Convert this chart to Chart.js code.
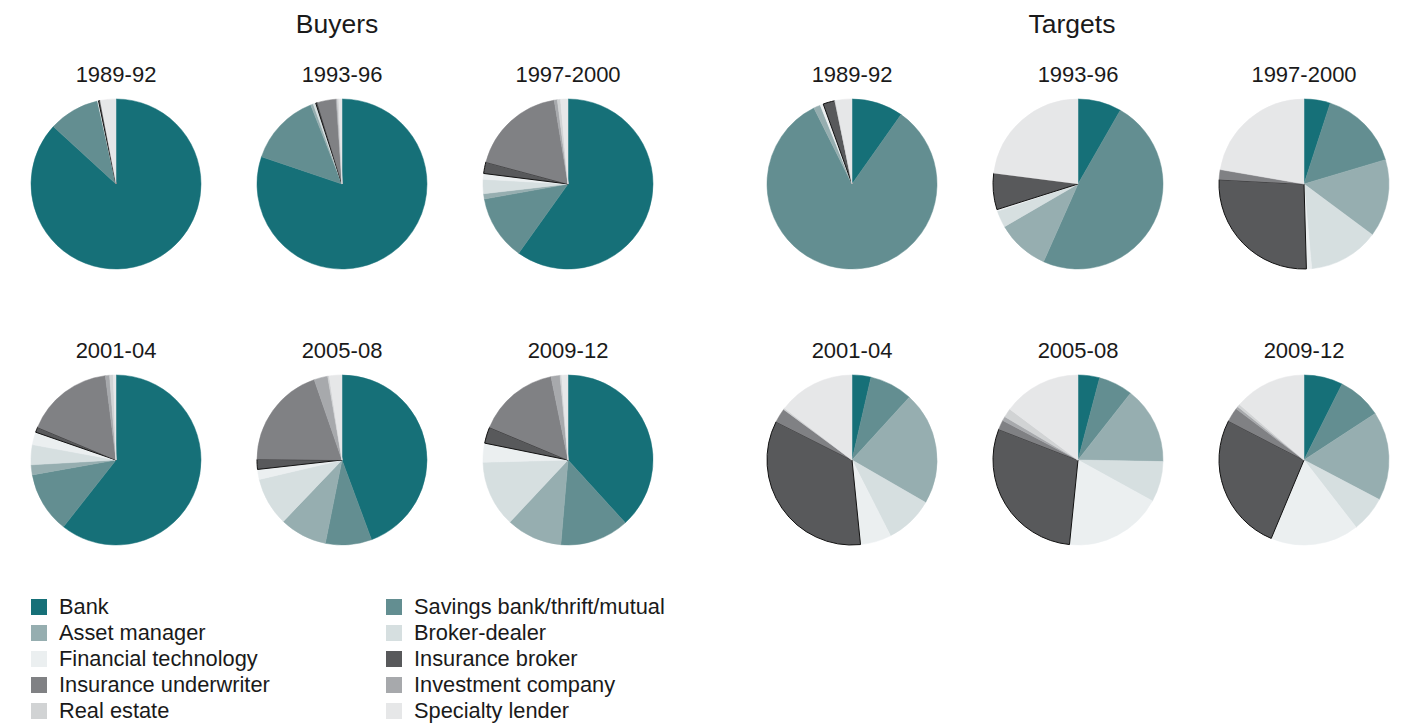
<!DOCTYPE html>
<html>
<head>
<meta charset="utf-8">
<script src="https://cdn.jsdelivr.net/npm/chart.js@4"></script>
<style>
  body { margin: 0; background: #fff; font-family: "Liberation Sans", Arial, sans-serif; color: #1a1a1a; }
  #wrap { position: relative; width: 1409px; height: 724px; }
  .group-title { position: absolute; top: 9px; width: 300px; text-align: center; font-size: 26.5px; }
  .period { position: absolute; width: 200px; text-align: center; font-size: 22px; }
  .pie { position: absolute; width: 190px; height: 190px; }
  .legend { position: absolute; top: 594px; left: 31px; display: grid; grid-template-columns: 355px 320px; row-gap: 0; font-size: 21.8px; }
  .legend div { height: 26px; line-height: 26px; display: flex; align-items: center; white-space: nowrap; }
  .legend span.sw { width: 16px; height: 16px; margin-right: 12px; display: inline-block; flex: none; }
</style>
</head>
<body>
<div id="wrap">
  <div class="group-title" style="left:187px">Buyers</div>
  <div class="group-title" style="left:922px">Targets</div>
  <div class="legend" id="legend"></div>
</div>
<script>
// Sector categories, in slice order (clockwise from 12 o'clock)
const sectors = ['Bank', 'Savings bank/thrift/mutual', 'Asset manager', 'Broker-dealer', 'Financial technology',
                 'Insurance broker', 'Insurance underwriter', 'Investment company', 'Real estate', 'Specialty lender'];
const colors = ['#167078', '#638e91', '#96aeb0', '#d6dfe0', '#ebeff0', '#58595b', '#808184', '#a7a9ac', '#d1d3d4', '#e6e7e8'];
const periods = ['1989-92', '1993-96', '1997-2000', '2001-04', '2005-08', '2009-12'];

// Share of deals (%) by sector, buyers
const buyers8992 = [86.8, 9.7, 0, 0, 0.2, 0.3, 0, 0, 0, 3.0];
const buyers9396 = [80.2, 13.8, 0.5, 0.5, 0, 0.3, 3.6, 0.2, 0.3, 0.6];
const buyers9700 = [59.8, 12.3, 1.0, 2.7, 1.1, 2.2, 18.2, 0.6, 0.6, 1.4];
const buyers0104 = [60.6, 11.6, 1.9, 3.8, 2.4, 1.0, 16.7, 0.8, 0.7, 0.5];
const buyers0508 = [44.4, 8.8, 9.0, 9.2, 1.9, 1.9, 19.6, 2.6, 0.3, 2.4];
const buyers0912 = [38.2, 13.1, 10.6, 12.6, 3.6, 3.1, 15.5, 1.7, 0.3, 1.2];

// Share of deals (%) by sector, targets
const targets8992 = [9.8, 82.8, 1.3, 0, 0.6, 2.2, 0, 0, 0.2, 3.1];
const targets9396 = [8.3, 48.4, 10.0, 3.2, 0.3, 6.9, 0, 0, 0, 23.0];
const targets9700 = [5.0, 15.4, 14.8, 13.4, 1.0, 26.3, 1.9, 0, 0, 22.3];
const targets0104 = [3.6, 8.2, 21.6, 9.2, 5.9, 34.1, 2.7, 0, 0.3, 14.6];
const targets0508 = [4.1, 6.5, 14.7, 7.7, 18.6, 29.3, 1.8, 0.8, 1.7, 14.8];
const targets0912 = [7.4, 8.4, 16.9, 6.8, 16.8, 26.3, 2.7, 0.5, 0.5, 13.7];

const buyerSets = [buyers8992, buyers9396, buyers9700, buyers0104, buyers0508, buyers0912];
const targetSets = [targets8992, targets9396, targets9700, targets0104, targets0508, targets0912];

const wrap = document.getElementById('wrap');
const colX = [116, 342, 568];
const rowY = [184, 460];

function makePie(cx, cy, label, values) {
    const title = document.createElement('div');
    title.className = 'period';
    title.style.left = (cx - 100) + 'px';
    title.style.top = (cy - 122) + 'px';
    title.innerText = label;
    wrap.appendChild(title);

    const box = document.createElement('div');
    box.className = 'pie';
    box.style.left = (cx - 95) + 'px';
    box.style.top = (cy - 95) + 'px';
    const canvas = document.createElement('canvas');
    box.appendChild(canvas);
    wrap.appendChild(box);

    new Chart(canvas, {
        type: 'pie',
        data: {
            labels: sectors,
            datasets: [{
                data: values,
                backgroundColor: colors,
                // insurance broker slices carry a dark edge
                borderColor: colors.map((c, i) => i === 5 ? '#111' : c),
                borderWidth: colors.map((c, i) => i === 5 ? 1 : 0.5),
                radius: 85
            }]
        },
        options: {
            responsive: true, maintainAspectRatio: false, animation: false,
            plugins: { legend: { display: false }, tooltip: { enabled: false } }
        }
    });
}

periods.forEach((p, i) => {
    const r = Math.floor(i / 3), c = i % 3;
    makePie(colX[c], rowY[r], p, buyerSets[i]);
    makePie(colX[c] + 736, rowY[r], p, targetSets[i]);
});

// Legend, two columns, row by row
const legend = document.getElementById('legend');
sectors.forEach((s, i) => {
    const d = document.createElement('div');
    d.innerHTML = `<span class="sw" style="background:${colors[i]}"></span>${s}`;
    legend.appendChild(d);
});
</script>
</body>
</html>
